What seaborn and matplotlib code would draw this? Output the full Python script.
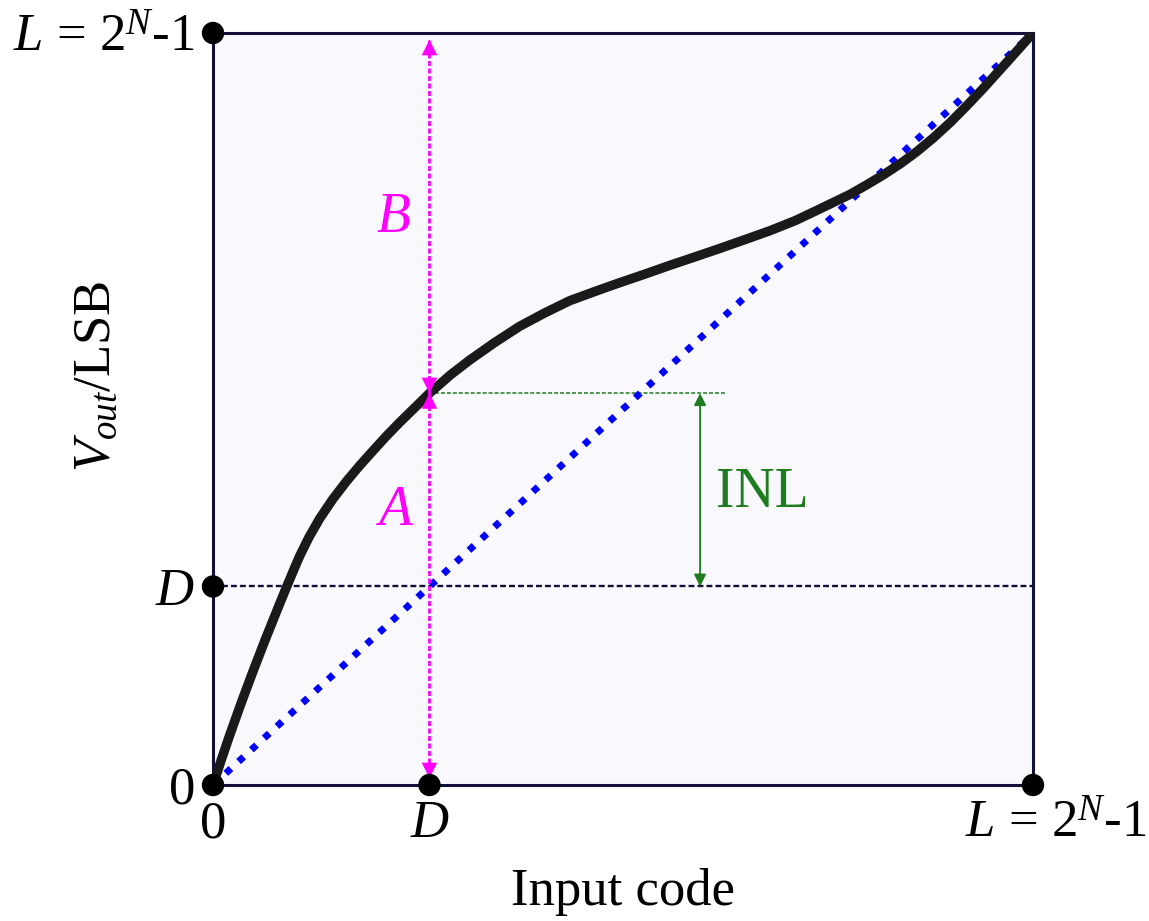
import matplotlib
matplotlib.use("Agg")
import matplotlib.pyplot as plt
from matplotlib.transforms import ScaledTranslation
import seaborn as sns
import pandas as pd

# Full-scale code / level (normalised) and the example input code D
L = 1.0
D = 0.264

# Measured transfer characteristic (normalised code vs. normalised output)
curve_x = [0.0, 0.0106, 0.0207, 0.035, 0.049, 0.0634, 0.0797, 0.0898,
           0.098, 0.1057, 0.117, 0.130, 0.146, 0.1626, 0.179, 0.195, 0.211,
           0.2277, 0.246, 0.264, 0.290, 0.313, 0.343, 0.374, 0.405, 0.435,
           0.465, 0.496, 0.527, 0.557, 0.587, 0.618, 0.648, 0.679, 0.710,
           0.740, 0.777, 0.797, 0.817, 0.838, 0.858, 0.879, 0.899, 0.919,
           0.939, 0.968, 1.0]
curve_y = [0.0, 0.0350, 0.0673, 0.1109, 0.1518, 0.1924, 0.2367, 0.2636,
           0.2849, 0.3045, 0.3294, 0.3541, 0.3800, 0.4036, 0.4249, 0.4443,
           0.4635, 0.4822, 0.5017, 0.521, 0.5457, 0.565, 0.588, 0.610, 0.628,
           0.644, 0.656, 0.668, 0.6795, 0.691, 0.702, 0.7135, 0.725, 0.737,
           0.7505, 0.766, 0.7855, 0.798, 0.811, 0.826, 0.842, 0.861, 0.881,
           0.903, 0.926, 0.961, 1.0]

# Ideal straight line from 0 to L
ideal_x = [0.0, L]
ideal_y = [0.0, L]

# Output value of the measured curve at code D
curve_at_D = 0.521

# Marked points on the axes
dot_x = [0.0, D, 0.0, 0.0, L]
dot_y = [0.0, 0.0, D, L, 0.0]

tick_labels = ["0", "$D$", "$L$ = 2$^{N}$-1"]

sns.set_style("white")
plt.rcParams["font.family"] = ["Liberation Serif", "DejaVu Serif"]
plt.rcParams["mathtext.fontset"] = "custom"
plt.rcParams["mathtext.rm"] = "Liberation Serif"
plt.rcParams["mathtext.it"] = "Liberation Serif:italic"
plt.rcParams["mathtext.bf"] = "Liberation Serif:bold"
plt.rcParams["text.color"] = "black"
plt.rcParams["axes.labelcolor"] = "black"
plt.rcParams["xtick.color"] = "black"
plt.rcParams["ytick.color"] = "black"

MAGENTA = "#ff00ff"
GREEN = "#1e7b1e"
NAVY = "#10103a"
LABEL_SIZE = 38
NOTE_SIZE = 40

fig = plt.figure(figsize=(11.49, 9.21), dpi=100)
ax = fig.add_axes([213 / 1149, 136 / 921, 820 / 1149, 752 / 921])
ax.set_facecolor("#f9f9fd")

curve_df = pd.DataFrame({"code": curve_x, "out": curve_y})
ideal_df = pd.DataFrame({"code": ideal_x, "out": ideal_y})

# Ideal line (blue dotted) and measured curve (thick black)
sns.lineplot(data=ideal_df, x="code", y="out", ax=ax, color="#0000ff",
             lw=5, sort=False, zorder=3)
ax.lines[-1].set_linestyle((0, (1.0, 1.5)))
ax.lines[-1].set_dash_capstyle("butt")
sns.lineplot(data=curve_df, x="code", y="out", ax=ax, color="#1a1a1a",
             lw=6.8, sort=False, zorder=4)
ax.lines[-1].set_solid_capstyle("butt")
ax.lines[-1].set_solid_joinstyle("round")

# Horizontal reference at output D
ax.plot([0, L], [D, D], color=NAVY, lw=1.7, dashes=(2.5, 1.3), zorder=2)

# Vertical magenta guide at code D with A/B arrows
top_y = 0.991
bot_y = 0.009
ax.plot([D, D], [bot_y, top_y], color=MAGENTA, lw=2.0, dashes=(1.8, 0.9),
        zorder=5)
head = dict(arrowstyle="-|>", color=MAGENTA, lw=0, mutation_scale=28,
            shrinkA=0, shrinkB=0)
for tip, dy in [(top_y, -14), (bot_y, 14), (curve_at_D, 14), (curve_at_D, -14)]:
    ax.annotate("", xy=(D, tip), xytext=(0, dy), textcoords="offset points",
                arrowprops=head, zorder=6)

ax.text(0.222, 0.346, "A", color=MAGENTA, fontsize=NOTE_SIZE,
        fontstyle="italic", ha="center", va="baseline")
ax.text(0.2195, 0.735, "B", color=MAGENTA, fontsize=NOTE_SIZE,
        fontstyle="italic", ha="center", va="baseline")

# INL: deviation of the curve from the ideal line at code D
inl_x = 0.594
ax.plot([D, 0.624], [curve_at_D, curve_at_D], color=GREEN, lw=1.1,
        dashes=(2.6, 1.3), zorder=2)
ax.annotate("", xy=(inl_x, D), xytext=(inl_x, curve_at_D),
            arrowprops=dict(arrowstyle="<|-|>", color=GREEN, lw=1.3,
                            mutation_scale=18, shrinkA=0, shrinkB=0))
ax.text(0.614, 0.370, "INL", color=GREEN, fontsize=NOTE_SIZE, ha="left",
        va="baseline")

# Key points on the axes
sns.scatterplot(x=dot_x, y=dot_y, ax=ax, color="black", s=260,
                edgecolor="none", zorder=10, clip_on=False)

ax.set_xlim(0, L)
ax.set_ylim(0, L)
ax.set_xticks([0, D, L])
ax.set_xticklabels(tick_labels, fontsize=LABEL_SIZE)
ax.set_yticks([0, D, L])
ax.set_yticklabels(tick_labels, fontsize=LABEL_SIZE)
ax.tick_params(axis="both", length=0, labelcolor="black")
ax.tick_params(axis="x", pad=11)
ax.tick_params(axis="y", pad=13)

# Shift the full-scale x label right so it clears the corner point
last = ax.get_xticklabels()[-1]
last.set_transform(last.get_transform() +
                   ScaledTranslation(0.23, 0, fig.dpi_scale_trans))

for side in ["left", "right", "top", "bottom"]:
    ax.spines[side].set_visible(True)
    ax.spines[side].set_color(NAVY)
    ax.spines[side].set_linewidth(2.2)

ax.set_xlabel("Input code", fontsize=LABEL_SIZE, color="black")
ax.set_ylabel("$V_{out}$/LSB", fontsize=LABEL_SIZE, color="black")
ax.xaxis.set_label_coords(0.5, -0.111)
ax.yaxis.set_label_coords(-0.113, 0.544)

fig.savefig("out.png", dpi=100)
